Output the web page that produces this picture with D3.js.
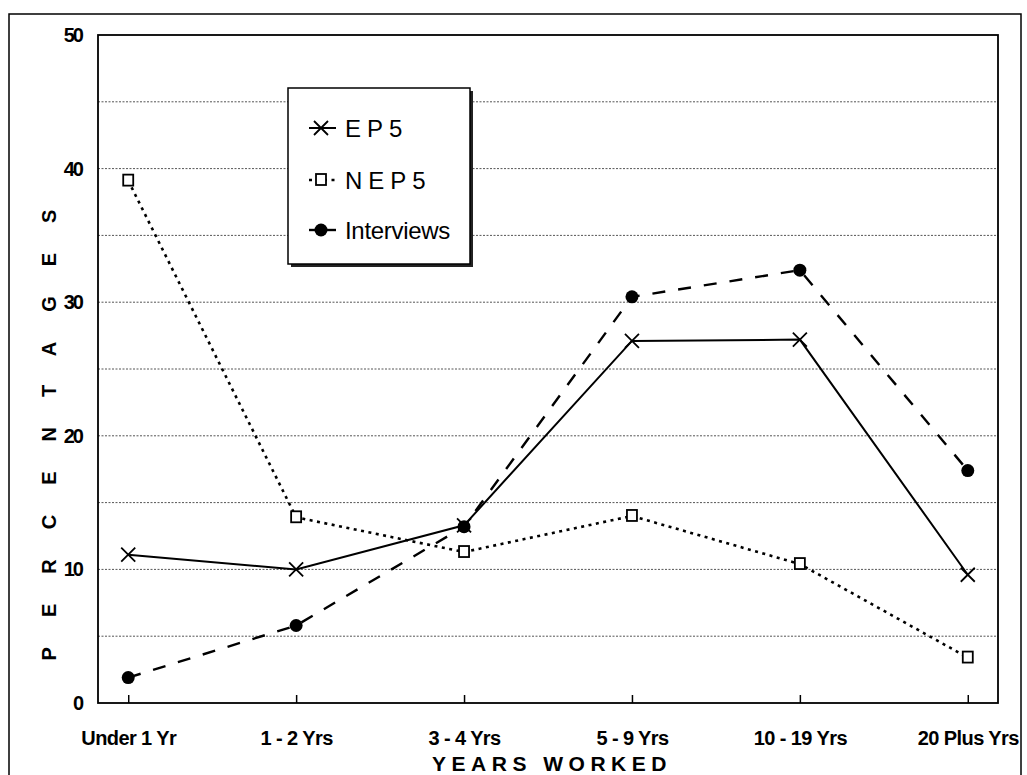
<!DOCTYPE html>
<html>
<head>
<meta charset="utf-8">
<script src="https://cdn.jsdelivr.net/npm/d3@7"></script>
<style>
  body { margin: 0; background: #fff; }
  svg { display: block; font-family: "Liberation Sans", Arial, sans-serif; }
</style>
</head>
<body>
<svg id="chart" width="1027" height="775"></svg>
<script type="text/javascript">
// data
var categories = ["Under 1 Yr", "1 - 2 Yrs", "3 - 4 Yrs", "5 - 9 Yrs", "10 - 19 Yrs", "20 Plus Yrs"];
var ep5 = [11.1, 10.0, 13.3, 27.1, 27.2, 9.6];
var nep5 = [39.1, 13.9, 11.3, 14.0, 10.4, 3.4];
var interviews = [1.9, 5.8, 13.2, 30.4, 32.4, 17.4];
var yTicks = [0, 10, 20, 30, 40, 50];
var gridValues = [5, 10, 15, 20, 25, 30, 35, 40, 45];

var seriesList = [
  {name: "EP5", values: ep5, dash: null, width: 2, marker: "x"},
  {name: "NEP5", values: nep5, dash: "3,4.5", width: 2.6, marker: "square"},
  {name: "Interviews", values: interviews, dash: "13,13", width: 2.4, marker: "dot"}
];

var svg = d3.select("#chart");
var plot = {left: 98, right: 998, top: 35, bottom: 703};

// outer frame
svg.append("rect")
  .attr("x", 9).attr("y", 14).attr("width", 1012).attr("height", 800)
  .style("fill", "none").style("stroke", "black").style("stroke-width", 1.5);

var x = d3.scalePoint()
  .domain(categories)
  .range([plot.left, plot.right])
  .padding(0.18);

var y = d3.scaleLinear()
  .domain([0, 50])
  .range([plot.bottom, plot.top]);

// gridlines
svg.append("g")
  .selectAll("line")
  .data(gridValues)
  .enter().append("line")
    .attr("x1", plot.left).attr("x2", plot.right)
    .attr("y1", function (d) { return y(d); })
    .attr("y2", function (d) { return y(d); })
    .style("stroke", "#555")
    .style("stroke-width", 1)
    .style("stroke-dasharray", "2,1.5");

// plot border
svg.append("rect")
  .attr("x", plot.left).attr("y", plot.top)
  .attr("width", plot.right - plot.left).attr("height", plot.bottom - plot.top)
  .style("fill", "none").style("stroke", "black").style("stroke-width", 1.8);

// y axis labels
var yAxis = d3.axisLeft(y).tickValues(yTicks).tickSize(0).tickPadding(16);
var gy = svg.append("g")
  .attr("transform", "translate(" + plot.left + ",0)")
  .call(yAxis);
gy.select(".domain").remove();
gy.selectAll("text")
  .style("font-size", "20px").style("font-weight", "bold")
  .style("letter-spacing", "-2px").style("fill", "black")
  .attr("font-family", null);

// x axis: small ticks pointing up, labels below
var xAxis = d3.axisBottom(x).tickSize(-8).tickPadding(28);
var gx = svg.append("g")
  .attr("transform", "translate(0," + plot.bottom + ")")
  .call(xAxis);
gx.select(".domain").remove();
gx.selectAll("line").style("stroke", "black").style("stroke-width", 1.5);
gx.selectAll("text")
  .style("font-size", "20px").style("font-weight", "bold")
  .style("letter-spacing", "-0.6px").style("fill", "black")
  .attr("font-family", null);

// axis titles
svg.append("text")
  .attr("x", 552).attr("y", 771)
  .attr("text-anchor", "middle")
  .style("font-size", "21px").style("font-weight", "bold")
  .style("letter-spacing", "5.5px")
  .text("YEARS WORKED");

svg.append("text")
  .attr("transform", "translate(56,420) rotate(-90)")
  .attr("text-anchor", "middle")
  .style("font-size", "20px").style("font-weight", "bold")
  .style("letter-spacing", "30px")
  .text("PERCENTAGES");

function drawMarker(g, type, cx, cy) {
  if (type === "x") {
    g.append("path")
      .attr("d", "M" + (cx - 7) + "," + (cy - 7) + "L" + (cx + 7) + "," + (cy + 7) +
                 "M" + (cx - 7) + "," + (cy + 7) + "L" + (cx + 7) + "," + (cy - 7))
      .style("stroke", "black").style("stroke-width", 1.8).style("fill", "none");
  } else if (type === "square") {
    g.append("rect")
      .attr("x", cx - 5).attr("y", cy - 6).attr("width", 10).attr("height", 11)
      .style("fill", "white").style("stroke", "black").style("stroke-width", 1.8);
  } else {
    g.append("circle")
      .attr("cx", cx).attr("cy", cy).attr("r", 6.5)
      .style("fill", "black");
  }
}

var line = d3.line()
  .x(function (d, i) { return x(categories[i]); })
  .y(function (d) { return y(d); });

seriesList.forEach(function (s) {
  var g = svg.append("g");
  g.append("path")
    .datum(s.values)
    .attr("d", line)
    .style("fill", "none")
    .style("stroke", "black")
    .style("stroke-width", s.width)
    .style("stroke-dasharray", s.dash);
  s.values.forEach(function (v, i) {
    drawMarker(g, s.marker, x(categories[i]), y(v));
  });
});

// legend
var legend = svg.append("g");
legend.append("rect")
  .attr("x", 291).attr("y", 91).attr("width", 182).attr("height", 176)
  .style("fill", "#222");
legend.append("rect")
  .attr("x", 288).attr("y", 88).attr("width", 182).attr("height", 176)
  .style("fill", "white").style("stroke", "black").style("stroke-width", 1.5);

var legendY = [128, 180, 230];
var legendSpacing = ["6px", "6px", "-0.3px"];
seriesList.forEach(function (s, i) {
  var ly = legendY[i];
  legend.append("line")
    .attr("x1", 309).attr("x2", 336)
    .attr("y1", ly).attr("y2", ly)
    .style("stroke", "black")
    .style("stroke-width", s.width)
    .style("stroke-dasharray", s.marker === "dot" ? null : s.dash);
  drawMarker(legend, s.marker, 321, ly);
  legend.append("text")
    .attr("x", 345).attr("y", ly + 9)
    .style("font-size", "24px")
    .style("letter-spacing", legendSpacing[i])
    .text(s.name);
});
</script>
</body>
</html>
